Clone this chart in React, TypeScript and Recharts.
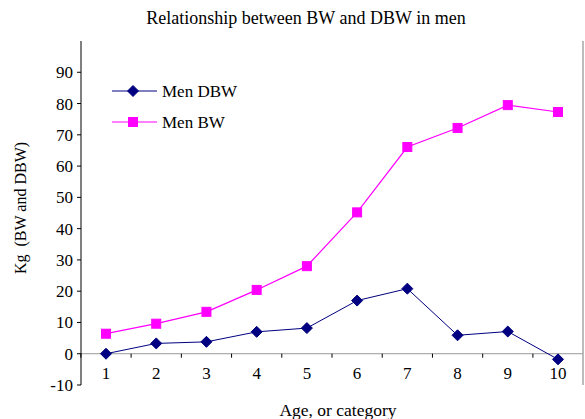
import React from 'react';
import { LineChart, Line, XAxis, YAxis, ReferenceLine } from 'recharts';

const categories = [1, 2, 3, 4, 5, 6, 7, 8, 9, 10];
const menDBW = [0, 3.3, 3.8, 7.0, 8.2, 17.0, 20.8, 5.9, 7.1, -1.8];
const menBW = [6.4, 9.6, 13.4, 20.4, 28.0, 45.2, 66.1, 72.2, 79.5, 77.3];
const yTicks = [-10, 0, 10, 20, 30, 40, 50, 60, 70, 80, 90];

const data = categories.map((c, i) => ({ cat: c, dbw: menDBW[i], bw: menBW[i] }));

const FONT = '"Liberation Serif", "Times New Roman", serif';
const NAVY = '#000080';
const MAGENTA = '#FF00FF';

// category band is ~50px; ticks sit between categories on the zero line
const HALF_BAND = 25.1;
const ZERO_FROM_BOTTOM = 31.3;

const Diamond = (props: any) => {
  const { cx, cy } = props;
  if (cx == null || cy == null) return null;
  const r = 5.5;
  return <polygon points={`${cx},${cy - r} ${cx + r},${cy} ${cx},${cy + r} ${cx - r},${cy}`} fill={NAVY} stroke={NAVY} />;
};

const Square = (props: any) => {
  const { cx, cy } = props;
  if (cx == null || cy == null) return null;
  return <rect x={cx - 4.5} y={cy - 4.5} width={9} height={9} fill={MAGENTA} stroke={MAGENTA} />;
};

const XTick = (props: any) => {
  const { x, y, payload } = props;
  const zy = y - ZERO_FROM_BOTTOM;
  return (
    <g>
      <line x1={x - HALF_BAND} x2={x - HALF_BAND} y1={zy} y2={zy + 4} stroke="#000" />
      <text x={x} y={y - 12} dy="0.35em" textAnchor="middle" fontFamily={FONT} fontSize={17} fill="#000">
        {payload.value}
      </text>
    </g>
  );
};

export default function App() {
  return (
    <div style={{ position: 'absolute', left: 0, top: 0, width: 585, height: 419, background: '#fff', overflow: 'hidden' }}>
      <div style={{ position: 'absolute', top: 8, left: 0, width: 612, textAlign: 'center', fontFamily: FONT, fontSize: 18, color: '#000' }}>
        Relationship between BW and DBW in men
      </div>
      <LineChart width={585} height={419} data={data} margin={{ top: 41, right: 1, bottom: 0, left: 0 }}>
        <XAxis xAxisId="top" orientation="top" dataKey="cat" tick={false} tickLine={false} height={0} padding={{ left: 25, right: 25 }} axisLine={{ stroke: '#a6a6a6', strokeWidth: 1.5 }} />
        <YAxis yAxisId="right" orientation="right" domain={[-10, 100]} tick={false} tickLine={false} width={1} axisLine={{ stroke: '#a6a6a6', strokeWidth: 1.5 }} />
        <XAxis xAxisId="x" dataKey="cat" height={34} tickSize={0} tickMargin={0} axisLine={false} tickLine={false} tick={<XTick />} interval={0} padding={{ left: 25, right: 25 }} />
        <YAxis
          yAxisId="left"
          domain={[-10, 100]}
          ticks={yTicks}
          width={81}
          tickSize={4}
          tickMargin={4}
          axisLine={{ stroke: '#000' }}
          tickLine={{ stroke: '#000' }}
          tick={{ fontFamily: FONT, fontSize: 17, fill: '#000' }}
          allowDataOverflow
        />
        <ReferenceLine yAxisId="left" xAxisId="x" y={0} stroke="#999" />
        <Line xAxisId="x" yAxisId="left" dataKey="dbw" stroke={NAVY} strokeWidth={1} dot={<Diamond />} activeDot={false} isAnimationActive={false} />
        <Line xAxisId="x" yAxisId="left" dataKey="bw" stroke={MAGENTA} strokeWidth={1.2} dot={<Square />} activeDot={false} isAnimationActive={false} />
      </LineChart>
      <svg width={40} height={419} style={{ position: 'absolute', left: 0, top: 0 }}>
        <text x={20} y={208} transform="rotate(-90 20 208)" textAnchor="middle" dy="0.35em" fontFamily={FONT} fontSize={16} fill="#000">
          {'Kg\u00a0\u00a0(BW and DBW)'}
        </text>
      </svg>
      <svg width={220} height={90} style={{ position: 'absolute', left: 100, top: 70 }}>
        <line x1={12} x2={57} y1={21} y2={21} stroke={NAVY} />
        <Diamond cx={33} cy={21} />
        <text x={62} y={21} dy="0.35em" fontFamily={FONT} fontSize={17} fill="#000">Men DBW</text>
        <line x1={12} x2={57} y1={52} y2={52} stroke={MAGENTA} strokeWidth={1.2} />
        <Square cx={33} cy={52} />
        <text x={62} y={52} dy="0.35em" fontFamily={FONT} fontSize={17} fill="#000">Men BW</text>
      </svg>
      <div style={{ position: 'absolute', top: 400, left: 0, width: 676, textAlign: 'center', fontFamily: FONT, fontSize: 17.5, color: '#000' }}>
        Age, or category
      </div>
    </div>
  );
}
